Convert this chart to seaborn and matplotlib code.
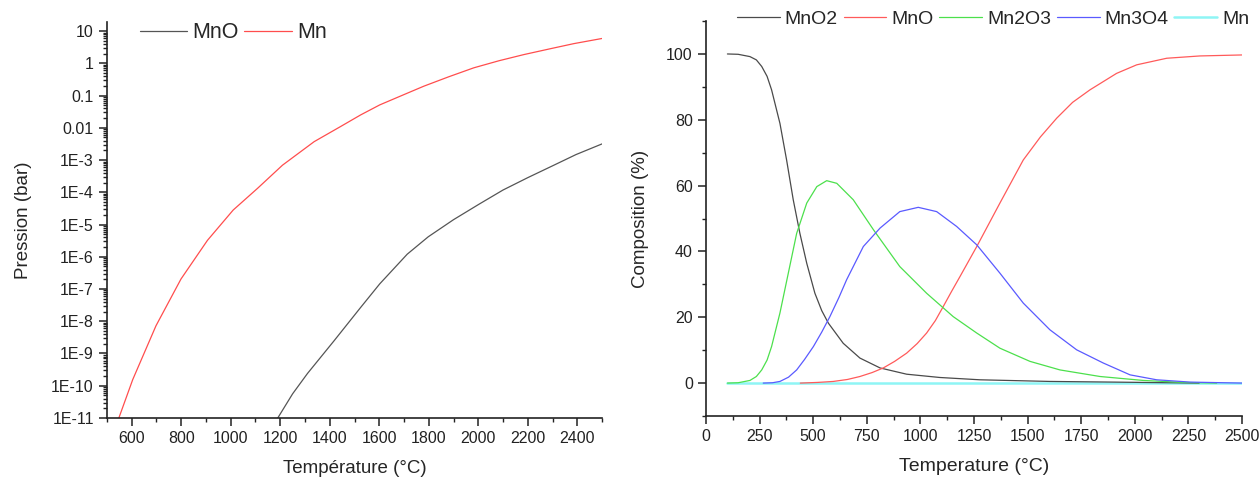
import numpy as np
import pandas as pd
import matplotlib
matplotlib.use("Agg")
import matplotlib.pyplot as plt
import matplotlib.ticker as mticker
import matplotlib.colors as mcolors
import seaborn as sns

# ---- Left panel data: vapour pressure (log10 of bar) ----
mn_T = [548, 604, 698, 799, 906, 1010, 1108, 1209, 1337, 1444, 1525, 1602, 1700, 1780, 1880, 1982, 2084, 2184, 2290, 2386, 2500]
mn_logP = [-11.0, -9.81, -8.14, -6.69, -5.49, -4.55, -3.88, -3.16, -2.43, -1.96, -1.60, -1.29, -0.97, -0.71, -0.42, -0.14, 0.08, 0.27, 0.45, 0.61, 0.77]
mno_T = [1190, 1250, 1310, 1417, 1525, 1602, 1713, 1798, 1900, 2003, 2100, 2199, 2300, 2395, 2500]
mno_logP = [-11.0, -10.25, -9.62, -8.61, -7.57, -6.84, -5.92, -5.38, -4.85, -4.37, -3.93, -3.55, -3.18, -2.83, -2.50]

# ---- Right panel data: composition (%) ----
mno2_T = [100, 150, 205, 235, 260, 285, 306, 345, 376, 407, 438, 470, 508, 540, 571, 640, 718, 812, 936, 1091, 1278, 1604, 1900, 2300]
mno2_v = [100, 99.9, 99.2, 98.2, 96.2, 93.2, 89.1, 78.9, 67.8, 55.7, 45.5, 36.4, 27.3, 22.0, 18.2, 12.1, 7.6, 4.6, 2.7, 1.7, 1.0, 0.5, 0.3, 0.0]
mn2o3_T = [100, 150, 205, 235, 260, 285, 306, 345, 384, 423, 470, 517, 563, 610, 687, 781, 904, 1029, 1153, 1263, 1371, 1511, 1651, 1838, 2040, 2227, 2382]
mn2o3_v = [0, 0.1, 0.8, 2.0, 4.0, 7.0, 11.1, 21.3, 33.4, 45.5, 54.7, 59.7, 61.5, 60.7, 55.7, 46.6, 35.4, 27.3, 20.2, 15.2, 10.6, 6.6, 4.0, 2.0, 0.8, 0.2, 0.0]
mn3o4_T = [267, 310, 345, 385, 423, 460, 501, 540, 578, 620, 656, 734, 812, 904, 990, 1076, 1169, 1263, 1371, 1480, 1604, 1729, 1853, 1978, 2102, 2258, 2500]
mn3o4_v = [0, 0.1, 0.5, 1.8, 4.0, 7.2, 11.1, 15.5, 20.2, 26.0, 31.4, 41.5, 47.1, 52.1, 53.4, 52.1, 47.6, 42.0, 33.4, 24.3, 16.2, 10.1, 6.1, 2.5, 1.0, 0.3, 0.0]
mno_c_T = [440, 520, 594, 660, 718, 775, 827, 880, 936, 985, 1029, 1070, 1107, 1145, 1185, 1263, 1371, 1480, 1560, 1636, 1710, 1791, 1915, 2009, 2149, 2304, 2500]
mno_c_v = [0, 0.2, 0.5, 1.1, 2.0, 3.2, 4.6, 6.6, 9.1, 12.0, 15.2, 19.0, 23.3, 27.8, 32.4, 41.5, 54.7, 67.8, 74.8, 80.5, 85.3, 89.1, 94.1, 96.7, 98.7, 99.4, 99.7]
mn_c_T = [100, 2500]
mn_c_v = [0, 0]

left_series = ["MnO", "Mn"]
right_series = ["MnO2", "MnO", "Mn2O3", "Mn3O4", "Mn"]

sns.set_theme(style="ticks")
plt.rcParams['font.family'] = ['Liberation Sans', 'DejaVu Sans']

fig = plt.figure(figsize=(12.6, 4.84), dpi=100)
ax1 = fig.add_axes([0.0849, 0.1364, 0.3929, 0.818])
ax2 = fig.add_axes([0.5603, 0.1405, 0.4254, 0.816])

# left panel
dfl = pd.concat([
    pd.DataFrame({"T": mno_T, "P": 10 ** np.array(mno_logP), "s": "MnO"}),
    pd.DataFrame({"T": mn_T, "P": 10 ** np.array(mn_logP), "s": "Mn"}),
])
sns.lineplot(data=dfl, x="T", y="P", hue="s", hue_order=left_series,
             palette={"MnO": "#555555", "Mn": "#ff4d4d"}, linewidth=0.9, ax=ax1)
ax1.set_yscale("log")
ax1.set_xlim(500, 2500)
ax1.set_ylim(1e-11, 19)
ax1.set_yticks([10.0 ** k for k in range(-11, 2)])

def fmt(v, pos):
    k = int(round(np.log10(v)))
    if k >= 0:
        return f"{int(round(v))}"
    if k >= -2:
        return f"{v:.{-k}f}"
    return f"1E{k}"

ax1.yaxis.set_major_formatter(mticker.FuncFormatter(fmt))
ax1.yaxis.set_minor_locator(mticker.LogLocator(base=10, subs=np.arange(2, 10), numticks=100))
ax1.yaxis.set_minor_formatter(mticker.NullFormatter())
ax1.set_xticks(np.arange(600, 2401, 200))
ax1.xaxis.set_minor_locator(mticker.MultipleLocator(100))
ax1.set_xlabel("Température (°C)", fontsize=13.5, labelpad=10)
ax1.set_ylabel("Pression (bar)", fontsize=13.5, labelpad=14)
ax1.legend(ncol=2, frameon=False, fontsize=15.5, loc="upper left", bbox_to_anchor=(0.066, 1.0),
           borderaxespad=0, borderpad=0,
           handlelength=2.2, handletextpad=0.25, columnspacing=0.25)

# right panel
dfr = pd.concat([
    pd.DataFrame({"T": mno2_T, "v": mno2_v, "s": "MnO2"}),
    pd.DataFrame({"T": mno_c_T, "v": mno_c_v, "s": "MnO"}),
    pd.DataFrame({"T": mn2o3_T, "v": mn2o3_v, "s": "Mn2O3"}),
    pd.DataFrame({"T": mn3o4_T, "v": mn3o4_v, "s": "Mn3O4"}),
    pd.DataFrame({"T": mn_c_T, "v": mn_c_v, "s": "Mn"}),
])
pal = {"MnO2": "#4a4a4a", "MnO": "#ff5a5a", "Mn2O3": "#4ce04c", "Mn3O4": "#5a5aff", "Mn": "#8ef5f5"}
sns.lineplot(data=dfr, x="T", y="v", hue="s", hue_order=right_series, palette=pal,
             linewidth=0.9, ax=ax2)
cyan = mcolors.to_rgba(pal["Mn"])
for ln in ax2.get_lines():
    if mcolors.to_rgba(ln.get_color()) == cyan:
        ln.set_linewidth(1.8)
        ln.set_zorder(1.5)
ax2.set_xlim(0, 2500)
ax2.set_ylim(-10, 110)
ax2.set_yticks(np.arange(0, 101, 20))
ax2.yaxis.set_minor_locator(mticker.MultipleLocator(10))
ax2.set_xticks(np.arange(0, 2501, 250))
ax2.xaxis.set_minor_locator(mticker.MultipleLocator(125))
ax2.set_xlabel("Temperature (°C)", fontsize=14, labelpad=10)
ax2.set_ylabel("Composition (%)", fontsize=13.5, labelpad=12)
ax2.legend(ncol=5, frameon=False, fontsize=14, loc="upper left", bbox_to_anchor=(0.058, 1.028),
           borderaxespad=0, borderpad=0,
           handlelength=2.2, handletextpad=0.25, columnspacing=0.3)

for ax in (ax1, ax2):
    sns.despine(ax=ax)
    for sp in ("left", "bottom"):
        ax.spines[sp].set_linewidth(1.2)
        ax.spines[sp].set_color("#222222")
    ax.tick_params(which="major", direction="out", length=6, width=1.1, labelsize=11.5, colors="#222222")
    ax.tick_params(which="minor", direction="out", length=3, width=1.0, colors="#222222")
    ax.grid(False)

fig.savefig("out.png", dpi=100)
